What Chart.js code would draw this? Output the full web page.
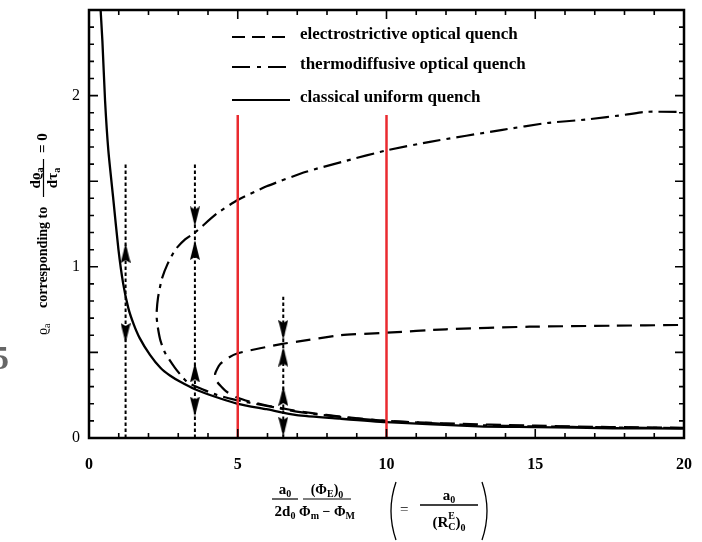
<!DOCTYPE html>
<html>
<head>
<meta charset="utf-8">
<script src="https://cdn.jsdelivr.net/npm/chart.js@4.4.1/dist/chart.umd.min.js"></script>
<style>
  html, body { margin: 0; padding: 0; background: #fff; }
  #wrap { position: relative; width: 702px; height: 542px; overflow: hidden; }
</style>
</head>
<body>
<div id="wrap"><canvas id="quenchChart" width="702" height="542"></canvas></div>
<script>
  // values
  const seriesNames = ['electrostrictive optical quench', 'thermodiffusive optical quench', 'classical uniform quench'];

  const classicalX = [0.37, 0.45, 0.54, 0.65, 0.82, 0.99, 1.15, 1.32, 1.5, 1.7, 2.05, 2.4, 2.72, 3.1, 3.56, 4.29, 5.0, 5.97, 6.98, 8.44, 10.0, 13.1, 15.0, 17.6, 20.0];
  const classicalY = [2.56, 2.32, 1.97, 1.68, 1.39, 1.10, 0.90, 0.76, 0.665, 0.585, 0.485, 0.41, 0.365, 0.325, 0.285, 0.238, 0.20, 0.168, 0.134, 0.113, 0.093, 0.068, 0.064, 0.057, 0.055];

  const thermoX = [19.75, 18.7, 18.1, 16.7, 15.4, 13.9, 11.46, 10.0, 8.66, 7.3, 5.97, 5.0, 4.29, 3.56, 3.23, 2.9, 2.65, 2.45, 2.32, 2.27, 2.31, 2.4, 2.55, 2.89, 3.28, 3.67, 4.29, 4.85, 5.41, 6.2, 6.98, 8.44, 10.0, 13.0, 15.0, 17.5, 20.0];
  const thermoY = [1.905, 1.905, 1.89, 1.86, 1.84, 1.80, 1.73, 1.68, 1.62, 1.555, 1.47, 1.39, 1.31, 1.20, 1.16, 1.10, 1.02, 0.93, 0.82, 0.72, 0.65, 0.57, 0.50, 0.41, 0.33, 0.295, 0.252, 0.226, 0.206, 0.18, 0.154, 0.123, 0.10, 0.075, 0.068, 0.062, 0.058];

  const electroX = [19.8, 17.6, 14.8, 12.0, 10.0, 8.44, 7.0, 6.5, 5.75, 5.0, 4.7, 4.4, 4.24, 4.3, 4.45, 4.63, 4.96, 5.41, 5.97, 6.76, 7.5, 8.44, 10.0, 12.0, 15.0, 17.5, 20.0];
  const electroY = [0.66, 0.656, 0.65, 0.635, 0.615, 0.60, 0.563, 0.55, 0.524, 0.495, 0.47, 0.43, 0.375, 0.33, 0.30, 0.27, 0.238, 0.212, 0.19, 0.165, 0.145, 0.125, 0.10, 0.085, 0.072, 0.064, 0.06];

  const redX = [5, 10];
  const redTop = 1.887;

  const guideX = [1.23, 3.56, 6.53];
  const guideTop = [1.6, 1.6, 0.825];

  const upArrowX = [1.23, 3.56, 3.56, 6.53, 6.53];
  const upArrowY = [1.08, 1.098, 0.383, 0.475, 0.245];
  const downArrowX = [1.23, 3.56, 3.56, 6.53, 6.53];
  const downArrowY = [0.613, 1.294, 0.183, 0.631, 0.065];

  const xTickLabels = [0, 5, 10, 15, 20];
  const yTickLabels = [0, 1, 2];

  const SERIF = '"Liberation Serif", "DejaVu Serif", serif';

  const pts = (xs, ys) => xs.map((x, i) => ({ x: x, y: ys[i] }));

  // narrow arrow head used as point style
  function arrowHead() {
    const c = document.createElement('canvas');
    c.width = 10; c.height = 20;
    const g = c.getContext('2d');
    g.fillStyle = '#000';
    g.beginPath();
    g.moveTo(5, 0); g.lineTo(10, 20); g.lineTo(5, 17); g.lineTo(0, 20);
    g.closePath(); g.fill();
    return c;
  }
  const head = arrowHead();

  const datasets = [];
  redX.forEach(x => datasets.push({
    data: [{ x: x, y: 0 }, { x: x, y: redTop }], showLine: true, pointRadius: 0,
    borderColor: '#ea2a2f', borderWidth: 2.5, order: 0
  }));
  datasets.push({ data: pts(electroX, electroY), showLine: true, pointRadius: 0, tension: 0.2,
    borderColor: '#000', borderWidth: 2.2, borderDash: [15, 8], order: 2 });
  datasets.push({ data: pts(thermoX, thermoY), showLine: true, pointRadius: 0, tension: 0.2,
    borderColor: '#000', borderWidth: 2.2, borderDash: [18, 6, 4, 6], order: 2 });
  datasets.push({ data: pts(classicalX, classicalY), showLine: true, pointRadius: 0, tension: 0.2,
    borderColor: '#000', borderWidth: 2.3, order: 2 });
  guideX.forEach((x, i) => datasets.push({
    data: [{ x: x, y: 0 }, { x: x, y: guideTop[i] }], showLine: true, pointRadius: 0,
    borderColor: '#000', borderWidth: 2, borderDash: [3.5, 2.5], order: 3
  }));
  datasets.push({ data: pts(upArrowX, upArrowY), showLine: false, pointStyle: head, pointRotation: 0, order: 1 });
  datasets.push({ data: pts(downArrowX, downArrowY), showLine: false, pointStyle: head, pointRotation: 180, order: 1 });

  // text made of runs: [text, size, dy, bold, advance]
  const runFont = r => (r[3] === false ? '' : 'bold ') + r[1] + 'px ' + SERIF;
  function runsWidth(ctx, runs) {
    let w = 0;
    runs.forEach(r => { ctx.font = runFont(r); if (r[4] !== false) w += ctx.measureText(r[0]).width; });
    return w;
  }
  function drawRuns(ctx, x, y, runs, center) {
    let cx = center ? x - runsWidth(ctx, runs) / 2 : x;
    ctx.textAlign = 'left';
    ctx.textBaseline = 'alphabetic';
    runs.forEach(r => {
      ctx.font = runFont(r);
      ctx.fillText(r[0], cx, y + r[2]);
      if (r[4] !== false) cx += ctx.measureText(r[0]).width;
    });
  }

  const framePlugin = {
    id: 'frame',
    afterDatasetsDraw(chart) {
      const { ctx, chartArea: a, scales: { x: sx, y: sy } } = chart;
      ctx.save();
      ctx.strokeStyle = '#000';
      ctx.lineWidth = 2.5;
      ctx.strokeRect(a.left, a.top, a.right - a.left, a.bottom - a.top);
      ctx.lineWidth = 1.6;
      ctx.beginPath();
      for (let i = 0; i <= 20; i++) {
        const px = sx.getPixelForValue(i);
        const len = i % 5 === 0 ? 9 : 5;
        ctx.moveTo(px, a.bottom); ctx.lineTo(px, a.bottom - len);
        ctx.moveTo(px, a.top); ctx.lineTo(px, a.top + len);
      }
      for (let j = 0; j <= 25; j++) {
        const py = sy.getPixelForValue(j / 10);
        const len = j % 5 === 0 ? 9 : 5;
        ctx.moveTo(a.left, py); ctx.lineTo(a.left + len, py);
        ctx.moveTo(a.right, py); ctx.lineTo(a.right - len, py);
      }
      ctx.stroke();
      ctx.restore();
    },
    afterDraw(chart) {
      const ctx = chart.ctx;
      ctx.save();
      ctx.fillStyle = '#000';
      ctx.strokeStyle = '#000';

      // legend inside the plot
      const legendY = [37, 67, 100];
      const legendDash = [[13, 7], [18, 7, 4, 7], []];
      seriesNames.forEach((name, i) => {
        ctx.lineWidth = 2.2;
        ctx.setLineDash(legendDash[i]);
        ctx.beginPath(); ctx.moveTo(232, legendY[i]); ctx.lineTo(290, legendY[i]); ctx.stroke();
        ctx.setLineDash([]);
        ctx.font = 'bold 17px ' + SERIF;
        ctx.textAlign = 'left';
        ctx.textBaseline = 'middle';
        ctx.fillText(name, 300, legendY[i] - 2);
      });

      // y axis title, rotated
      ctx.save();
      ctx.translate(47, 335);
      ctx.rotate(-Math.PI / 2);
      drawRuns(ctx, 0, 0, [['\u03F1', 14, 0, false], ['a', 10, 3, false]], false);
      drawRuns(ctx, 27, 0, [['corresponding to', 14, 0]], false);
      drawRuns(ctx, 157, -7, [['d\u03F1', 15, 0], ['a', 10, 3]], true);
      ctx.lineWidth = 1.2;
      ctx.beginPath(); ctx.moveTo(138, -3.5); ctx.lineTo(176, -3.5); ctx.stroke();
      drawRuns(ctx, 157, 10, [['d\u03C4', 15, 0], ['a', 10, 3]], true);
      drawRuns(ctx, 182, 0, [['= 0', 15, 0]], false);
      ctx.restore();

      // x axis title
      ctx.lineWidth = 1.2;
      drawRuns(ctx, 285, 494, [['a', 15, 0], ['0', 10, 3]], true);
      ctx.beginPath(); ctx.moveTo(272, 499); ctx.lineTo(298, 499); ctx.stroke();
      drawRuns(ctx, 285, 516, [['2d', 15, 0], ['0', 10, 3]], true);

      drawRuns(ctx, 327, 494, [['(\u03A6', 14, 0], ['E', 10, 3], [')', 14, 0], ['0', 10, 4]], true);
      ctx.beginPath(); ctx.moveTo(303, 499); ctx.lineTo(351, 499); ctx.stroke();
      drawRuns(ctx, 327, 516, [['\u03A6', 14, 0], ['m', 10, 3], [' \u2212 \u03A6', 14, 0], ['M', 10, 3]], true);

      ctx.lineWidth = 1.3;
      ctx.beginPath();
      ctx.moveTo(396, 482); ctx.quadraticCurveTo(386, 511, 396, 540);
      ctx.moveTo(482, 482); ctx.quadraticCurveTo(492, 511, 482, 540);
      ctx.stroke();
      drawRuns(ctx, 400, 514, [['=', 15, 0, false]], false);
      drawRuns(ctx, 449, 500, [['a', 15, 0], ['0', 10, 3]], true);
      ctx.beginPath(); ctx.moveTo(420, 505); ctx.lineTo(478, 505); ctx.stroke();
      drawRuns(ctx, 449, 527, [['(R', 15, 0], ['E', 10, -8, true, false], ['C', 10, 3], [')', 15, 0], ['0', 10, 4]], true);

      // clipped page number at left edge
      ctx.fillStyle = '#666';
      ctx.font = 'bold 34px ' + SERIF;
      ctx.textAlign = 'right';
      ctx.textBaseline = 'middle';
      ctx.fillText('5', 9, 360);
      ctx.restore();
    }
  };

  new Chart(document.getElementById('quenchChart'), {
    type: 'scatter',
    data: { datasets: datasets },
    options: {
      responsive: false,
      animation: false,
      layout: { padding: { top: 10, right: 18, left: 0, bottom: 0 } },
      plugins: { legend: { display: false }, tooltip: { enabled: false } },
      scales: {
        x: {
          type: 'linear', min: 0, max: 20,
          afterFit: s => { s.height = 104; s.paddingLeft = 0; s.paddingRight = 0; },
          grid: { display: false, drawTicks: false },
          border: { display: false },
          ticks: {
            stepSize: 5, padding: 17, color: '#000',
            callback: v => xTickLabels.includes(v) ? v : '',
            font: { family: SERIF, size: 16, weight: 'bold' }
          }
        },
        y: {
          type: 'linear', min: 0, max: 2.5,
          afterFit: s => { s.width = 89; s.paddingTop = 0; s.paddingBottom = 0; },
          grid: { display: false, drawTicks: false },
          border: { display: false },
          ticks: {
            stepSize: 1, padding: 9, color: '#000',
            callback: v => yTickLabels.includes(v) ? v : '',
            font: { family: SERIF, size: 16 }
          }
        }
      }
    },
    plugins: [framePlugin]
  });
</script>
</body>
</html>
